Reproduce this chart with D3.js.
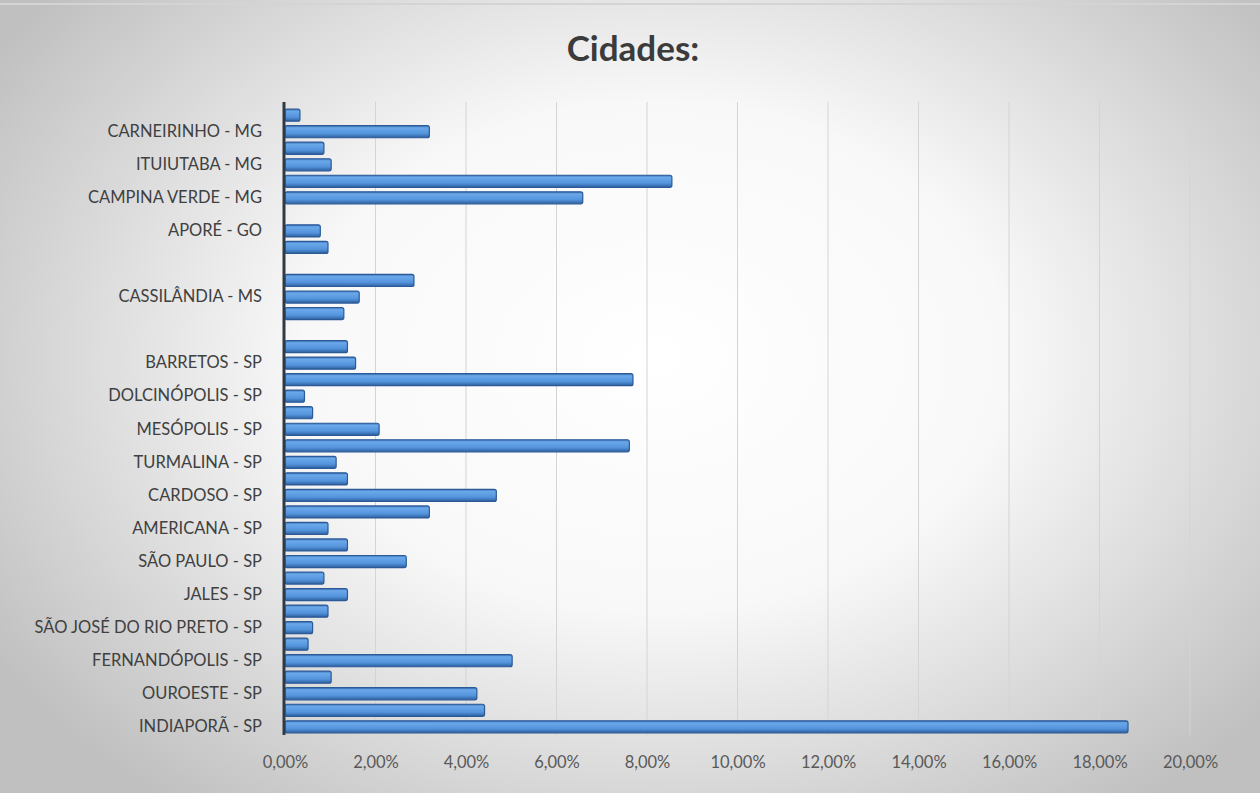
<!DOCTYPE html>
<html>
<head>
<meta charset="utf-8">
<script src="https://cdn.jsdelivr.net/npm/d3@7"></script>
<style>
  body { margin: 0; background: #fff; }
  svg { display: block; }
</style>
</head>
<body>
<div id="chart"></div>
<script>
// categories from top to bottom, "" where the axis label is skipped
const cities = [
  "", "CARNEIRINHO - MG", "", "ITUIUTABA - MG", "", "CAMPINA VERDE - MG",
  "", "APORÉ - GO", "", "", "", "CASSILÂNDIA - MS", "", "", "",
  "BARRETOS - SP", "", "DOLCINÓPOLIS - SP", "", "MESÓPOLIS - SP", "",
  "TURMALINA - SP", "", "CARDOSO - SP", "", "AMERICANA - SP", "",
  "SÃO PAULO - SP", "", "JALES - SP", "", "SÃO JOSÉ DO RIO PRETO - SP", "",
  "FERNANDÓPOLIS - SP", "", "OUROESTE - SP", "", "INDIAPORÃ - SP"
];
// share of respondents (fraction), same order
const shares = [
  0.0033, 0.0319, 0.0086, 0.0102, 0.0855, 0.0658,
  0, 0.0078, 0.0095, 0, 0.0285, 0.0164, 0.0130, 0, 0.0138,
  0.0156, 0.0769, 0.0043, 0.0061, 0.0208, 0.0761,
  0.0113, 0.0138, 0.0467, 0.0319, 0.0095, 0.0138,
  0.0268, 0.0086, 0.0138, 0.0095, 0.0061, 0.0051,
  0.0502, 0.0102, 0.0424, 0.0441, 0.1863
];
const xTicks = [0, 0.02, 0.04, 0.06, 0.08, 0.10, 0.12, 0.14, 0.16, 0.18, 0.20];

const width = 1260, height = 793;
const marginLeft = 285, marginRight = 70, marginTop = 107, marginBottom = 58;
const font = "Lato, 'Open Sans', sans-serif";

const svg = d3.select("#chart").append("svg")
  .attr("width", width)
  .attr("height", height)
  .attr("viewBox", [0, 0, width, height]);

const defs = svg.append("defs");

// background: light centre fading to grey edges
const bg = defs.append("radialGradient")
  .attr("id", "bg")
  .attr("cx", "52%").attr("cy", "45%")
  .attr("r", "62%")
  .attr("gradientTransform", "translate(0.52,0.45) scale(1,1.15) translate(-0.52,-0.45)");
bg.append("stop").attr("offset", "0%").attr("stop-color", "#ffffff");
bg.append("stop").attr("offset", "45%").attr("stop-color", "#f8f8f8");
bg.append("stop").attr("offset", "100%").attr("stop-color", "#c0c0c0");

// bar gradient, a little bevel
const bar = defs.append("linearGradient")
  .attr("id", "bar")
  .attr("x1", 0).attr("y1", 0).attr("x2", 0).attr("y2", 1);
bar.append("stop").attr("offset", "0%").attr("stop-color", "#3d73b8");
bar.append("stop").attr("offset", "18%").attr("stop-color", "#6aa8ea");
bar.append("stop").attr("offset", "65%").attr("stop-color", "#5494dc");
bar.append("stop").attr("offset", "100%").attr("stop-color", "#2d5f9f");

svg.append("rect")
  .attr("width", width).attr("height", height)
  .attr("fill", "url(#bg)");

// thin frame line on top
svg.append("line")
  .attr("x1", 0).attr("x2", width)
  .attr("y1", 4).attr("y2", 4)
  .attr("stroke", "#d4d4d4").attr("stroke-width", 2);

// scales
const x = d3.scaleLinear()
  .domain([0, 0.2])
  .range([marginLeft, width - marginRight]);

const y = d3.scaleBand()
  .domain(d3.range(cities.length))
  .range([marginTop, height - marginBottom])
  .paddingInner(0.27)
  .paddingOuter(0.13);

// gridlines
svg.append("g")
  .selectAll("line")
  .data(xTicks.slice(1))
  .join("line")
  .attr("x1", d => x(d)).attr("x2", d => x(d))
  .attr("y1", marginTop - 5).attr("y2", height - marginBottom)
  .attr("stroke", "#d4d4d4")
  .attr("stroke-width", 1);

// x axis
svg.append("g")
  .attr("transform", `translate(0,${height - marginBottom})`)
  .call(d3.axisBottom(x)
    .tickValues(xTicks)
    .tickSize(0)
    .tickPadding(21)
    .tickFormat(d => d3.format(".2f")(d * 100).replace(".", ",") + "%"))
  .call(g => g.select(".domain").remove())
  .call(g => g.selectAll(".tick text")
    .attr("font-family", font)
    .attr("font-size", 16.5)
    .attr("fill", "#595959"));

// bars
svg.append("g")
  .selectAll("rect")
  .data(shares)
  .join("rect")
  .attr("x", x(0))
  .attr("y", (d, i) => y(i))
  .attr("width", d => Math.max(0, x(d) - x(0)))
  .attr("height", y.bandwidth())
  .attr("rx", 2)
  .attr("fill", "url(#bar)")
  .attr("stroke", "#2b5a96")
  .attr("stroke-width", 1.2)
  .attr("display", d => d > 0 ? null : "none");

// y axis
svg.append("g")
  .attr("transform", `translate(${marginLeft - 1},0)`)
  .call(d3.axisLeft(y)
    .tickSize(0)
    .tickPadding(22)
    .tickFormat(i => cities[i]))
  .call(g => g.select(".domain").remove())
  .call(g => g.selectAll(".tick text")
    .attr("font-family", font)
    .attr("font-size", 16.5)
    .attr("fill", "#404040"));

// vertical axis line
svg.append("line")
  .attr("x1", marginLeft - 1).attr("x2", marginLeft - 1)
  .attr("y1", marginTop - 5).attr("y2", height - marginBottom)
  .attr("stroke", "#2f3a45")
  .attr("stroke-width", 3);

// title
svg.append("text")
  .attr("x", 633)
  .attr("y", 61)
  .attr("text-anchor", "middle")
  .attr("font-family", font)
  .attr("font-weight", "bold")
  .attr("font-size", 35)
  .attr("fill", "#3b3b3b")
  .text("Cidades:");
</script>
</body>
</html>
